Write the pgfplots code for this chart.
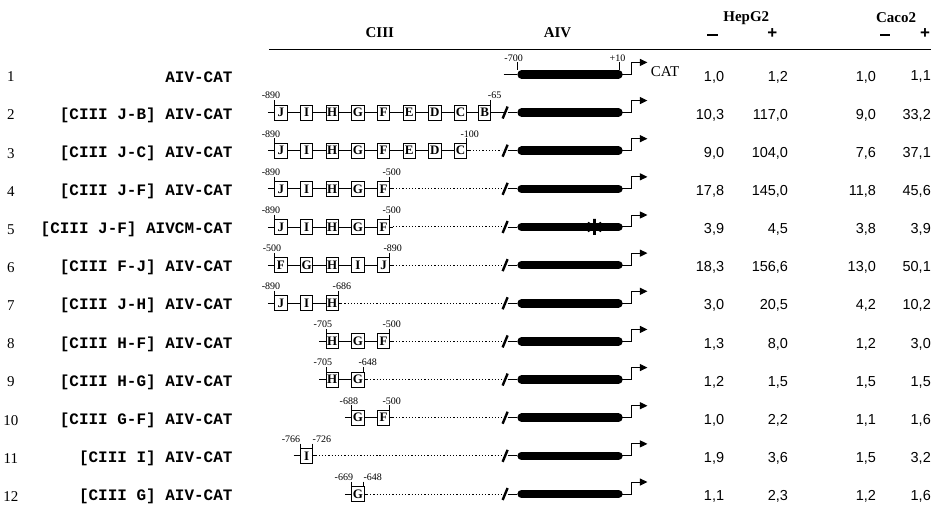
\documentclass[border=0pt]{standalone}
\usepackage{pgfplots}
\usepackage{pgfplotstable}
\pgfplotsset{compat=1.18}
\usetikzlibrary{arrows.meta}
\usepackage{fontspec}
\setmainfont{Liberation Serif}
\newfontfamily\monofont{Liberation Mono}
\newfontfamily\sansfont{Liberation Sans}

% value table (fold induction)
\pgfplotstableread{
i hm hp cm cp
1 1.0 1.2 1.0 1.1
2 10.3 117.0 9.0 33.2
3 9.0 104.0 7.6 37.1
4 17.8 145.0 11.8 45.6
5 3.9 4.5 3.8 3.9
6 18.3 156.6 13.0 50.1
7 3.0 20.5 4.2 10.2
8 1.3 8.0 1.2 3.0
9 1.2 1.5 1.5 1.5
10 1.0 2.2 1.1 1.6
11 1.9 3.6 1.5 3.2
12 1.1 2.3 1.2 1.6
}\valtable

% boxes (x, y, letter)
\pgfplotstableread{
x y lab
280 112.7 J
305.7 112.7 I
331.4 112.7 H
357.1 112.7 G
382.8 112.7 F
408.5 112.7 E
434.2 112.7 D
459.9 112.7 C
484 112.7 B
280 150.9 J
305.7 150.9 I
331.4 150.9 H
357.1 150.9 G
382.8 150.9 F
408.5 150.9 E
434.2 150.9 D
459.9 150.9 C
280 189.1 J
305.7 189.1 I
331.4 189.1 H
357.1 189.1 G
382.8 189.1 F
280 227.3 J
305.7 227.3 I
331.4 227.3 H
357.1 227.3 G
382.8 227.3 F
280 265.5 F
305.7 265.5 G
331.4 265.5 H
357.1 265.5 I
382.8 265.5 J
280 303.7 J
305.7 303.7 I
331.4 303.7 H
331.4 341.9 H
357.1 341.9 G
382.8 341.9 F
331.4 380.1 H
357.1 380.1 G
357.1 418.3 G
382.8 418.3 F
305.7 456.5 I
357.1 494.7 G
}\boxtable

% solid connecting lines
\pgfplotstableread{
x y
503 74.5
516 74.5
nan nan
267 112.7
503 112.7
nan nan
267 150.9
469 150.9
nan nan
267 189.1
392 189.1
nan nan
267 227.3
392 227.3
nan nan
267 265.5
392 265.5
nan nan
267 303.7
340.4 303.7
nan nan
318.4 341.9
392 341.9
nan nan
318.4 380.1
366.1 380.1
nan nan
344.1 418.3
392 418.3
nan nan
292.7 456.5
314.7 456.5
nan nan
344.1 494.7
366.1 494.7
nan nan
507 112.7
516 112.7
nan nan
507 150.9
516 150.9
nan nan
507 189.1
516 189.1
nan nan
507 227.3
516 227.3
nan nan
507 265.5
516 265.5
nan nan
507 303.7
516 303.7
nan nan
507 341.9
516 341.9
nan nan
507 380.1
516 380.1
nan nan
507 418.3
516 418.3
nan nan
507 456.5
516 456.5
nan nan
507 494.7
516 494.7
}\solidtable

% dotted lines
\pgfplotstableread{
x y
469 150.9
501 150.9
nan nan
392 189.1
501 189.1
nan nan
392 227.3
501 227.3
nan nan
392 265.5
501 265.5
nan nan
340.4 303.7
501 303.7
nan nan
392 341.9
501 341.9
nan nan
366.1 380.1
501 380.1
nan nan
392 418.3
501 418.3
nan nan
314.7 456.5
501 456.5
nan nan
366.1 494.7
501 494.7
}\dottable

% break slashes
\pgfplotstableread{
x y
502 118.7
507 106.7
nan nan
502 156.9
507 144.9
nan nan
502 195.1
507 183.1
nan nan
502 233.3
507 221.3
nan nan
502 271.5
507 259.5
nan nan
502 309.7
507 297.7
nan nan
502 347.9
507 335.9
nan nan
502 386.1
507 374.1
nan nan
502 424.3
507 412.3
nan nan
502 462.5
507 450.5
nan nan
502 500.7
507 488.7
}\slashtable

% AIV promoter bars
\pgfplotstableread{
x y
521 74.5
618 74.5
nan nan
521 112.7
618 112.7
nan nan
521 150.9
618 150.9
nan nan
521 189.1
618 189.1
nan nan
521 227.3
618 227.3
nan nan
521 265.5
618 265.5
nan nan
521 303.7
618 303.7
nan nan
521 341.9
618 341.9
nan nan
521 380.1
618 380.1
nan nan
521 418.3
618 418.3
nan nan
521 456.5
618 456.5
nan nan
521 494.7
618 494.7
}\bartable

% arrow stems
\pgfplotstableread{
x y
618 74.5
631 74.5
631 62.5
nan nan
618 112.7
631 112.7
631 100.7
nan nan
618 150.9
631 150.9
631 138.9
nan nan
618 189.1
631 189.1
631 177.1
nan nan
618 227.3
631 227.3
631 215.3
nan nan
618 265.5
631 265.5
631 253.5
nan nan
618 303.7
631 303.7
631 291.7
nan nan
618 341.9
631 341.9
631 329.9
nan nan
618 380.1
631 380.1
631 368.1
nan nan
618 418.3
631 418.3
631 406.3
nan nan
618 456.5
631 456.5
631 444.5
nan nan
618 494.7
631 494.7
631 482.7
}\stemtable

% arrow heads
\pgfplotstableread{
x y u v
631 62.5 16 0
631 100.7 16 0
631 138.9 16 0
631 177.1 16 0
631 215.3 16 0
631 253.5 16 0
631 291.7 16 0
631 329.9 16 0
631 368.1 16 0
631 406.3 16 0
631 444.5 16 0
631 482.7 16 0
}\arrowtable

% position ticks on boxes
\pgfplotstableread{
x y
274 103
490 103
274 141.2
465.9 141.2
274 179.4
388.8 179.4
274 217.6
388.8 217.6
274 255.8
388.8 255.8
274 294
337.4 294
325.4 332.2
388.8 332.2
325.4 370.4
363.1 370.4
351.1 408.6
388.8 408.6
299.7 446.8
311.7 446.8
351.1 485
363.1 485
}\ticktable

% position labels
\pgfplotstableread{
x y lab
513 62 -700
617 62 +10
270 99.7 -890
494 99.7 -65
270 137.9 -890
469 137.9 -100
270 176.1 -890
391 176.1 -500
270 214.3 -890
391 214.3 -500
271 252.5 -500
392 252.5 -890
270 290.7 -890
341 290.7 -686
322 328.9 -705
391 328.9 -500
322 367.1 -705
367 367.1 -648
348 405.3 -688
391 405.3 -500
290 443.5 -766
321 443.5 -726
343 481.7 -669
372 481.7 -648
}\postable

\newcommand{\valfont}{\sansfont\fontsize{14.5}{14.5}\selectfont}
\newcommand{\lblfont}{\monofont\bfseries\fontsize{16}{16}\selectfont}
\newcommand{\numfont}{\fontsize{15}{15}\selectfont}
\newcommand{\hdrfont}{\bfseries\fontsize{15}{15}\selectfont}

\begin{document}
\begin{tikzpicture}
\begin{axis}[
  hide axis, scale only axis,
  width=935pt, height=512pt,
  xmin=0, xmax=935, ymin=0, ymax=512,
  y dir=reverse, clip=false,
  unbounded coords=jump,
  /pgf/number format/.cd, use comma, fixed, fixed zerofill, precision=1, assume math mode=true,
]
\path (axis cs:0,0) rectangle (axis cs:935,512);

% header
\addplot[black, line width=1.1pt, mark=none] coordinates {(268,50) (931,50)};
\node[font=\hdrfont] at (axis cs:379,33) {CIII};
\node[font=\hdrfont] at (axis cs:557,33) {AIV};
\node[font=\hdrfont] at (axis cs:746,18) {HepG2};
\node[font=\hdrfont] at (axis cs:896,18) {Caco2};
\node[inner sep=0pt] at (axis cs:712.5,35) {\rule{11pt}{2.2pt}};
\node[font=\sansfont\bfseries\fontsize{17}{17}\selectfont] at (axis cs:772,34) {+};
\node[inner sep=0pt] at (axis cs:885,35) {\rule{10pt}{2.2pt}};
\node[font=\sansfont\bfseries\fontsize{17}{17}\selectfont] at (axis cs:925,34) {+};

% row numbers and construct names
\pgfplotsinvokeforeach{1,...,12}{
  \node[font=\numfont] at (axis cs:9.5,{77+38.2*(#1-1)}) {#1};
}
\node[font=\lblfont, anchor=east] at (axis cs:235,77) {AIV-CAT};
\node[font=\lblfont, anchor=east] at (axis cs:235,115.2) {[CIII J-B] AIV-CAT};
\node[font=\lblfont, anchor=east] at (axis cs:235,153.4) {[CIII J-C] AIV-CAT};
\node[font=\lblfont, anchor=east] at (axis cs:235,191.6) {[CIII J-F] AIV-CAT};
\node[font=\lblfont, anchor=east] at (axis cs:235,229.8) {[CIII J-F] AIVCM-CAT};
\node[font=\lblfont, anchor=east] at (axis cs:235,268) {[CIII F-J] AIV-CAT};
\node[font=\lblfont, anchor=east] at (axis cs:235,306.2) {[CIII J-H] AIV-CAT};
\node[font=\lblfont, anchor=east] at (axis cs:235,344.4) {[CIII H-F] AIV-CAT};
\node[font=\lblfont, anchor=east] at (axis cs:235,382.6) {[CIII H-G] AIV-CAT};
\node[font=\lblfont, anchor=east] at (axis cs:235,420.8) {[CIII G-F] AIV-CAT};
\node[font=\lblfont, anchor=east] at (axis cs:235,459) {[CIII I] AIV-CAT};
\node[font=\lblfont, anchor=east] at (axis cs:235,497.2) {[CIII G] AIV-CAT};

% diagram lines
\addplot[black, line width=0.9pt, mark=none] table[x=x,y=y] \solidtable;
\addplot[black, line width=1pt, mark=none, dash pattern=on 1.2pt off 2pt] table[x=x,y=y] \dottable;
\addplot[black, line width=2.4pt, mark=none] table[x=x,y=y] \slashtable;
\addplot[black, line width=8.5pt, line cap=round, mark=none] table[x=x,y=y] \bartable;
\addplot[black, line width=1pt, mark=none] table[x=x,y=y] \stemtable;
\addplot[black, line width=1pt, -{Triangle[length=7.5pt,width=7pt]},
  quiver={u=\thisrow{u}, v=\thisrow{v}}] table[x=x,y=y] \arrowtable;

% mutation mark on row 5
\addplot[black, only marks, mark=asterisk, mark size=8pt, mark options={line width=2.8pt, solid}] coordinates {(594,227.3)};

% position ticks
\addplot[black, only marks, mark=|, mark size=2.6pt, mark options={line width=0.9pt}] table[x=x,y=y] \ticktable;
\addplot[black, only marks, mark=|, mark size=3.9pt, mark options={line width=0.9pt}] coordinates {(517,66.4) (619,66.4)};

% boxes
\addplot[draw=none, mark=none, nodes near coords, point meta=explicit symbolic,
  every node near coord/.append style={draw=black, fill=white, line width=0.9pt,
    minimum width=12.5pt, minimum height=15pt, inner sep=0pt, anchor=center,
    font=\bfseries\fontsize{13}{13}\selectfont}]
  table[x=x, y=y, meta=lab] \boxtable;

% position labels
\addplot[draw=none, mark=none, nodes near coords, point meta=explicit symbolic,
  every node near coord/.append style={anchor=south, inner sep=0.3pt,
    font=\fontsize{10}{10}\selectfont}]
  table[x=x, y=y, meta=lab] \postable;

\node[anchor=west, font=\fontsize{15}{15}\selectfont] at (axis cs:647,72) {CAT};

% values
\addplot[draw=none, mark=none, nodes near coords, point meta=explicit,
  every node near coord/.append style={anchor=east, inner sep=0pt, font=\valfont}]
  table[x expr=724, y expr={77+38.2*(\thisrow{i}-1)}, meta=hm] \valtable;
\addplot[draw=none, mark=none, nodes near coords, point meta=explicit,
  every node near coord/.append style={anchor=east, inner sep=0pt, font=\valfont}]
  table[x expr=788, y expr={77+38.2*(\thisrow{i}-1)}, meta=hp] \valtable;
\addplot[draw=none, mark=none, nodes near coords, point meta=explicit,
  every node near coord/.append style={anchor=east, inner sep=0pt, font=\valfont}]
  table[x expr=876, y expr={77+38.2*(\thisrow{i}-1)}, meta=cm] \valtable;
\addplot[draw=none, mark=none, nodes near coords, point meta=explicit,
  every node near coord/.append style={anchor=east, inner sep=0pt, font=\valfont}]
  table[x expr=931, y expr={77+38.2*(\thisrow{i}-1)}, meta=cp] \valtable;
\end{axis}
\end{tikzpicture}
\end{document}
